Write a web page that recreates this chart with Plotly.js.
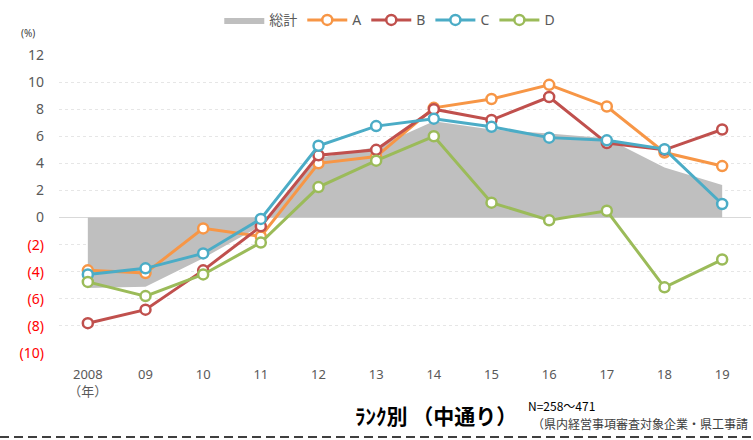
<!DOCTYPE html>
<html>
<head>
<meta charset="utf-8">
<script src="https://cdn.plot.ly/plotly-3.0.1.min.js"></script>
<style>html,body{margin:0;padding:0;background:#fff;}#chart{width:753px;height:440px;}</style>
</head>
<body>
<div id="chart"></div>
<script>
const years = ['2008','09','10','11','12','13','14','15','16','17','18','19'];
const yearLabels = ['2008<br>（年）','09','10','11','12','13','14','15','16','17','18','19'];
const total = [-5.2, -5.1, -3.0, -0.6, 4.4, 5.2, 7.1, 6.5, 6.2, 5.85, 3.7, 2.4];
const seriesA = [-3.9, -4.1, -0.8, -1.4, 4.0, 4.5, 8.1, 8.75, 9.8, 8.2, 4.8, 3.8];
const seriesB = [-7.8, -6.8, -3.9, -0.65, 4.6, 5.0, 8.0, 7.2, 8.9, 5.5, 5.0, 6.5];
const seriesC = [-4.2, -3.75, -2.65, -0.1, 5.3, 6.75, 7.3, 6.7, 5.9, 5.7, 5.05, 1.0];
const seriesD = [-4.75, -5.8, -4.2, -1.85, 2.25, 4.2, 6.0, 1.1, -0.2, 0.5, -5.15, -3.1];
const yTickVals = [-10,-8,-6,-4,-2,0,2,4,6,8,10,12];
const yTickText = yTickVals.map(v => v < 0 ? '<span style="color:#FF0000">(' + (-v) + ')</span>' : String(v));

const lineSeries = [
  {name:'A', y:seriesA, color:'#F79646'},
  {name:'B', y:seriesB, color:'#C0504D'},
  {name:'C', y:seriesC, color:'#4BACC6'},
  {name:'D', y:seriesD, color:'#9BBB59'}
];

const traces = [{
  type:'scatter', mode:'lines', name:'総計', x:years, y:total,
  fill:'tozeroy', fillcolor:'#BFBFBF', line:{width:0, color:'#BFBFBF'}
}];
lineSeries.forEach(s => traces.push({
  type:'scatter', mode:'lines+markers', name:s.name, x:years, y:s.y,
  line:{color:s.color, width:3},
  marker:{symbol:'circle', size:10, color:'#FFFFFF', line:{color:s.color, width:2.5}}
}));

const font = '"Noto Sans", "Noto Sans CJK JP", sans-serif';
const layout = {
  width:753, height:440,
  margin:{l:59, r:2, t:55, b:87},
  paper_bgcolor:'#FFFFFF', plot_bgcolor:'#FFFFFF',
  font:{family:font, size:13, color:'#595959'},
  showlegend:true,
  legend:{orientation:'h', x:0.478, xanchor:'center', y:1.17, yanchor:'top',
          font:{size:14, color:'#595959'}, itemwidth:40, traceorder:'normal'},
  xaxis:{type:'category', categoryorder:'array', categoryarray:years,
         tickvals:years, ticktext:yearLabels, range:[-0.5, 11.5],
         showgrid:false, zeroline:false, showline:false, ticks:'',
         ticklabelstandoff:12, tickfont:{size:13, color:'#595959'}, fixedrange:true},
  yaxis:{range:[-10, 12], tickvals:yTickVals, ticktext:yTickText,
         showgrid:true, gridcolor:'#E6E6E6', griddash:'dot', gridwidth:1,
         zeroline:true, zerolinecolor:'#D9D9D9', zerolinewidth:1.5,
         showline:false, ticks:'', ticklabelstandoff:14,
         tickfont:{size:14, color:'#595959'}, fixedrange:true},
  annotations:[
    {text:'(%)', xref:'paper', yref:'paper', x:-0.045, y:1.075, xanchor:'center', yanchor:'middle',
     showarrow:false, font:{size:10, color:'#404040'}},
    {text:'<b>ﾗﾝｸ別 （中通り）</b>', xref:'paper', yref:'paper', x:(353-59)/692, y:(353-415)/298,
     xanchor:'left', yanchor:'middle', showarrow:false,
     font:{family:'"Noto Sans CJK JP", sans-serif', size:21, color:'#000000'}},
    {text:'N=258～471', xref:'paper', yref:'paper', x:(526-59)/692, y:(353-405)/298,
     xanchor:'left', yanchor:'middle', showarrow:false,
     font:{family:'"Noto Sans CJK JP", sans-serif', size:12, color:'#000000'}},
    {text:'（県内経営事項審査対象企業・県工事請', xref:'paper', yref:'paper', x:(530-59)/692, y:(353-423)/298,
     xanchor:'left', yanchor:'middle', showarrow:false,
     font:{family:'"Noto Sans CJK JP", sans-serif', size:12, color:'#404040'}}
  ],
  shapes:[
    {type:'line', xref:'paper', yref:'paper', x0:-59/692, x1:1+2/692, y0:(353-437)/298, y1:(353-437)/298,
     line:{color:'#000000', width:1.5, dash:'9px,5px'}}
  ]
};

Plotly.newPlot('chart', traces, layout, {displayModeBar:false, staticPlot:true});
</script>
</body>
</html>
